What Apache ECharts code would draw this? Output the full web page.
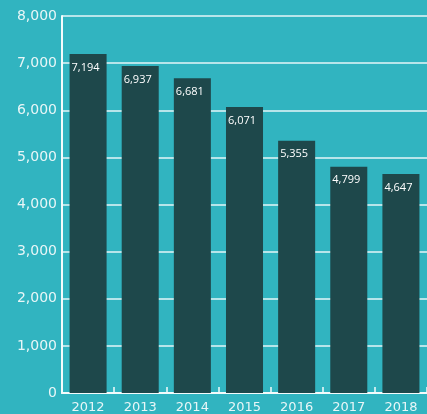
<!DOCTYPE html>
<html>
<head>
<meta charset="utf-8">
<style>
  html, body { margin: 0; padding: 0; background: #31b4c0; }
  #chart { width: 427px; height: 414px; }
</style>
<script src="https://cdn.jsdelivr.net/npm/echarts@6/dist/echarts.min.js"></script>
</head>
<body>
<div id="chart"></div>
<script>
// Annual totals, 2012–2018
const years = ['2012', '2013', '2014', '2015', '2016', '2017', '2018'];
const totals = [7194, 6937, 6681, 6071, 5355, 4799, 4647];
const yTicks = [0, 1000, 2000, 3000, 4000, 5000, 6000, 7000, 8000];

const fmt = v => v.toLocaleString('en-US');

const chart = echarts.init(document.getElementById('chart'));
chart.setOption({
  backgroundColor: '#31b4c0',
  animation: false,
  grid: { left: 62, right: 0, top: 16, bottom: 19, containLabel: false },
  xAxis: {
    type: 'category',
    data: years,
    axisLine: { lineStyle: { color: '#f4fbfc', width: 2 } },
    axisTick: { show: true, inside: true, length: 6, lineStyle: { color: '#f4fbfc', width: 1.5 } },
    axisLabel: {
      color: '#e8f6f7', fontFamily: 'DejaVu Sans', fontSize: 13, margin: 8
    }
  },
  yAxis: {
    type: 'value',
    min: yTicks[0],
    max: yTicks[yTicks.length - 1],
    interval: 1000,
    axisLine: { show: true, lineStyle: { color: '#f4fbfc', width: 2 } },
    axisTick: { show: false },
    splitLine: { lineStyle: { color: '#e4f6f8', width: 1.5 } },
    axisLabel: {
      color: '#e8f6f7', fontFamily: 'DejaVu Sans', fontSize: 14, margin: 5,
      formatter: v => fmt(v)
    }
  },
  series: [{
    type: 'bar',
    data: totals,
    barCategoryGap: '29%',
    itemStyle: { color: '#1e484b' },
    label: {
      show: true,
      position: [2, 8],
      color: '#ffffff',
      fontFamily: 'Open Sans',
      fontSize: 11,
      formatter: p => fmt(p.value)
    }
  }]
});
</script>
</body>
</html>
